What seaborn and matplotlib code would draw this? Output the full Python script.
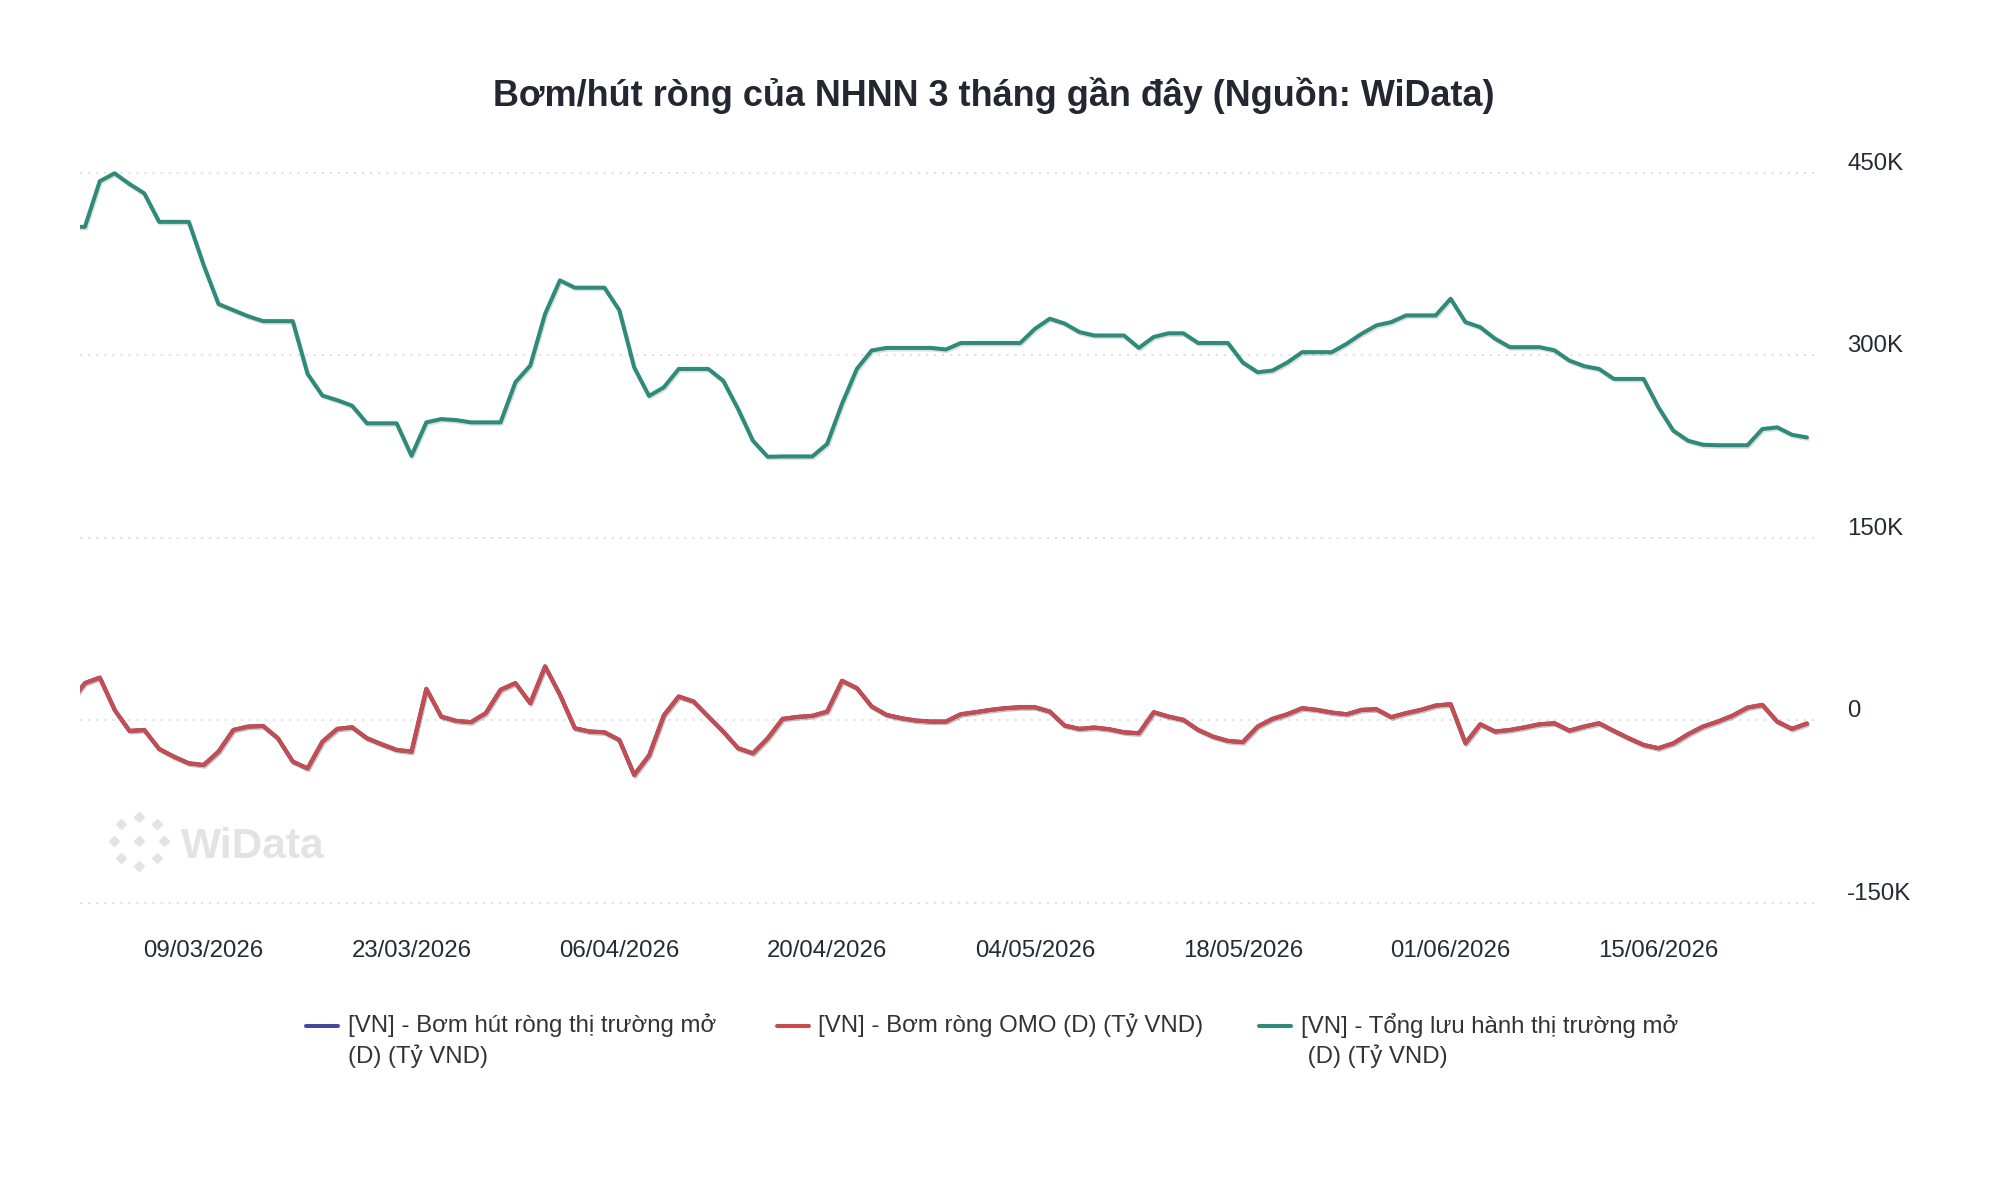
import numpy as np
import pandas as pd
import matplotlib
matplotlib.use("Agg")
import matplotlib.pyplot as plt
import matplotlib.dates as mdates
import matplotlib.patheffects as pe
from matplotlib.lines import Line2D
from matplotlib.transforms import Bbox, TransformedBbox, ScaledTranslation
from matplotlib.ticker import FuncFormatter
import seaborn as sns

# ---------------- data (Tỷ VND, daily 28/02/2026 - 25/06/2026) ----------------
start_date = "2026-02-28"
end_date = "2026-06-25"

# [VN] - Tổng lưu hành thị trường mở (thousand Tỷ VND)
tong_luu_hanh_k = [
    405.5, 405.5, 443, 449.5, 440.7, 433, 409.6, 409.6, 409.6, 374,
    342, 337, 332, 328, 328, 328, 284.6, 266.8, 263, 258.5,
    244, 244, 244, 217.3, 244.8, 247.5, 246.7, 244.8, 244.8, 244.8,
    277.8, 291.5, 334, 361.5, 355.5, 355.5, 355.5, 337, 290, 266.5,
    273.6, 288.7, 288.7, 288.7, 279, 255.8, 229.7, 216.5, 216.8, 216.8,
    216.8, 227, 260, 288.7, 303.9, 306, 306, 306, 306, 304.7,
    310, 310, 310, 310, 310, 321.7, 330, 326, 319, 316.2,
    316.2, 316.2, 306, 315, 318, 318, 310, 310, 310, 294,
    286, 287.4, 294, 302.5, 302.5, 302.5, 309.4, 317.6, 324.5, 327.2,
    332.7, 332.7, 332.7, 346.4, 327.2, 323, 313.5, 306.6, 306.6, 306.6,
    304, 295.6, 291, 288.7, 280.5, 280.5, 280.5, 257.2, 238, 229.7,
    226.4, 226, 226, 226, 239.3, 240.7, 234.6, 232.4,
]

# [VN] - Bơm ròng OMO (thousand Tỷ VND)
bom_rong_omo_k = [
    15, 30.5, 35, 8.5, -8.8, -8, -23.6, -30, -35.4, -36.8,
    -25.8, -8, -5.2, -4.7, -14.8, -34, -39.6, -17.6, -7.1, -5.8,
    -14.8, -19.8, -24.4, -25.8, 25.8, 3, -0.5, -1.6, 5.8, 25,
    30.5, 14, 44.2, 20.9, -6.6, -9.3, -9.9, -16.2, -45, -29,
    4, 19.5, 15.4, 3, -9.3, -23, -27.2, -14.8, 1.1, 2.7,
    3.6, 7.1, 32.4, 26.4, 11.3, 4.4, 1.6, -0.3, -1.1, -1.1,
    4.9, 6.6, 8.5, 9.9, 10.7, 10.7, 7.1, -4.4, -7.1, -6,
    -7.4, -9.9, -10.7, 6.6, 3, 0.3, -8, -13.5, -17, -18,
    -5.2, 1.1, 4.9, 9.9, 8.5, 6.3, 4.9, 8.5, 9.1, 2.5,
    5.8, 8.5, 12.1, 13.2, -19, -3.3, -9.3, -8, -5.8, -3.3,
    -2.5, -8.5, -5.2, -2.5, -8.8, -14.8, -20.3, -23, -19, -11.5,
    -5.2, -1.1, 3.8, 10.4, 12.6, -1.1, -7.1, -2.7,
]

# [VN] - Bơm hút ròng thị trường mở (coincides with OMO line, hidden beneath it)
bom_hut_rong_k = list(bom_rong_omo_k)

series_names = [
    "[VN] - Bơm hút ròng thị trường mở (D) (Tỷ VND)",
    "[VN] - Bơm ròng OMO (D) (Tỷ VND)",
    "[VN] - Tổng lưu hành thị trường mở (D) (Tỷ VND)",
]
series_colors = ["#434a9c", "#c84b50", "#2e8a7a"]

y_ticks = [-150000, 0, 150000, 300000, 450000]
x_tick_dates = ["2026-03-09", "2026-03-23", "2026-04-06", "2026-04-20",
                "2026-05-04", "2026-05-18", "2026-06-01", "2026-06-15"]

title = "Bơm/hút ròng của NHNN 3 tháng gần đây (Nguồn: WiData)"

# ---------------- build frame ----------------
dates = pd.date_range(start_date, end_date, freq="D")
df = pd.DataFrame({
    "date": np.tile(dates, 3),
    "value": np.concatenate([np.array(bom_hut_rong_k), np.array(bom_rong_omo_k),
                             np.array(tong_luu_hanh_k)]) * 1000.0,
    "series": np.repeat(series_names, len(dates)),
})

# ---------------- style ----------------
sns.set_style("white")
plt.rcParams["font.family"] = ["Liberation Sans", "DejaVu Sans"]
plt.rcParams["lines.scale_dashes"] = False

W, H = 2000, 1204
fig = plt.figure(figsize=(W / 100, H / 100), dpi=100)
fig.patch.set_facecolor("white")

ax_left, ax_right, ax_top, ax_bottom = 79.6, 1818.0, 172.7, 902.7
ax = fig.add_axes([ax_left / W, 1 - ax_bottom / H,
                   (ax_right - ax_left) / W, (ax_bottom - ax_top) / H])
ax.patch.set_alpha(0)

lw = 2.9
for name, col in zip(series_names, series_colors):
    sub = df[df["series"] == name]
    sns.lineplot(data=sub, x="date", y="value", color=col, linewidth=lw,
                 ax=ax, legend=False, estimator=None,
                 solid_joinstyle="round", solid_capstyle="round")

clip = TransformedBbox(Bbox([[0, -0.05], [1, 1.05]]), ax.transAxes)
for ln in ax.lines:
    ln.set_clip_box(clip)
    ln.set_path_effects([pe.SimpleLineShadow(offset=(0.8, -1.2), shadow_color="k",
                                             alpha=0.13),
                         pe.Normal()])

# axes limits
ax.set_xlim(pd.Timestamp("2026-03-01") - pd.Timedelta(hours=8.6),
            pd.Timestamp(end_date) + pd.Timedelta(hours=18))
ax.set_ylim(-150000, 450000)

for s in ax.spines.values():
    s.set_visible(False)

# grid
ax.set_yticks(y_ticks)
ax.grid(False)
for yv in y_ticks:
    ax.axhline(yv, color="#d8d8d8", linewidth=1.1, linestyle=(0, (1.6, 4.2)),
               zorder=0, clip_on=False)

# y labels on right
ax.yaxis.tick_right()
ax.yaxis.set_major_formatter(FuncFormatter(
    lambda v, p: "0" if v == 0 else f"{int(v/1000)}K"))
ax.tick_params(axis="y", length=0, pad=20.9, labelsize=17.3, labelcolor="#262a33")
for t in ax.yaxis.get_major_ticks():
    t.label2.set_transform(t.label2.get_transform() +
                           ScaledTranslation(0, 11.5 / 100, fig.dpi_scale_trans))
ax.set_ylabel("")

# x labels
ax.set_xticks(pd.to_datetime(x_tick_dates))
ax.xaxis.set_major_formatter(mdates.DateFormatter("%d/%m/%Y"))
ax.tick_params(axis="x", length=0, pad=27, labelsize=17.3, labelcolor="#262a33")
ax.set_xlabel("")

# title
fig.text(994 / W, 1 - 96 / H, title, ha="center", va="center",
         fontsize=25.9, fontweight="bold", color="#222731")

# watermark
wm_col = "#e3e3e3"
fig.text(181 / W, 1 - 858 / H, "WiData", ha="left", va="baseline",
         fontsize=30.6, fontweight="bold", color=wm_col, zorder=1)
dots_x = [139, 121, 157, 114, 139, 164, 121, 157, 139]
dots_y = [817, 824, 824, 841, 841, 841, 858, 858, 866]
fig.add_artist(Line2D(np.array(dots_x) / W, 1 - np.array(dots_y) / H,
                      transform=fig.transFigure, linestyle="none", marker="D",
                      markersize=4.6, color=wm_col, zorder=1))

# legend (manual, Highcharts-like)
leg_items = [
    (306, 348, ["[VN] - Bơm hút ròng thị trường mở", "(D) (Tỷ VND)"]),
    (777, 818, ["[VN] - Bơm ròng OMO (D) (Tỷ VND)"]),
    (1259, 1301, ["[VN] - Tổng lưu hành thị trường mở", " (D) (Tỷ VND)"]),
]
row_y = [1025.5, 1056]
for (lx, tx, lines), col in zip(leg_items, series_colors):
    fig.add_artist(Line2D([lx / W, (lx + 32) / W], [1 - row_y[0] / H] * 2,
                          transform=fig.transFigure, color=col, linewidth=2.9,
                          zorder=2))
    for k, txt in enumerate(lines):
        fig.text(tx / W, 1 - row_y[k] / H, txt, ha="left", va="center",
                 fontsize=17.3, color="#333333")

fig.savefig("out.png", dpi=100, facecolor="white")
